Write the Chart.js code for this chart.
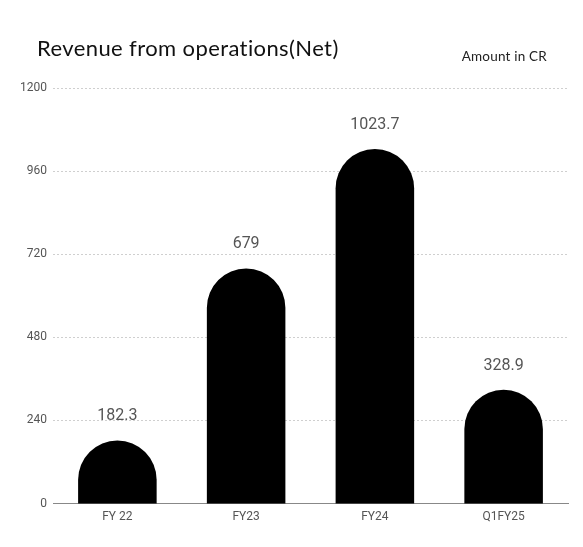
<!DOCTYPE html>
<html>
<head>
<meta charset="utf-8">
<script src="https://cdn.jsdelivr.net/npm/chart.js@4.4.1/dist/chart.umd.min.js"></script>
<style>
  html, body { margin: 0; padding: 0; background: #fff; }
  #wrap { position: relative; width: 583px; height: 547px; }
  #title { position: absolute; left: 37px; top: 34px; font: 22px Lato, "Open Sans", sans-serif; letter-spacing: 0.4px; color: #111; }
  #unit { position: absolute; right: 36px; top: 48px; font: 13.5px Lato, "Open Sans", sans-serif; letter-spacing: 0.2px; color: #222; }
  canvas { position: absolute; left: 0; top: 0; }
</style>
</head>
<body>
<div id="wrap">
  <canvas id="revChart" width="583" height="547"></canvas>
  <div id="title">Revenue from operations(Net)</div>
  <div id="unit">Amount in CR</div>
</div>
<script>
// chart values
const categories = ['FY 22', 'FY23', 'FY24', 'Q1FY25'];
const revenue = [182.3, 679, 1023.7, 328.9];
const yTicks = [0, 240, 480, 720, 960, 1200];

// draw the value above each bar
const valueLabels = {
    id: 'valueLabels',
    afterDatasetsDraw(chart) {
        const ctx = chart.ctx;
        const meta = chart.getDatasetMeta(0);
        ctx.save();
        ctx.font = '16px Roboto, sans-serif';
        ctx.fillStyle = '#555';
        ctx.textAlign = 'center';
        ctx.textBaseline = 'middle';
        meta.data.forEach((bar, i) => {
            ctx.fillText(String(revenue[i]), bar.x, bar.y - 24);
        });
        ctx.restore();
    }
};

const ctx = document.getElementById('revChart').getContext('2d');

new Chart(ctx, {
    type: 'bar',
    data: {
        labels: categories,
        datasets: [{
            data: revenue,
            backgroundColor: '#000',
            // start bars below the axis (clipped) so the round cap is a full half circle
            base: -300,
            borderRadius: { topLeft: 999, topRight: 999 },
            borderSkipped: 'bottom',
            barPercentage: 0.61,
            categoryPercentage: 1
        }]
    },
    options: {
        responsive: false,
        animation: false,
        layout: { padding: { top: 88, right: 15, bottom: 17, left: 0 } },
        plugins: {
            legend: { display: false },
            tooltip: { enabled: false }
        },
        scales: {
            x: {
                grid: { display: false, drawTicks: false },
                border: { display: true, color: '#888', width: 1 },
                ticks: { color: '#555', font: { family: 'Roboto', size: 12 }, padding: 6 }
            },
            y: {
                min: 0,
                max: 1200,
                afterBuildTicks(scale) {
                    scale.ticks = yTicks.map(v => ({ value: v }));
                },
                afterFit(scale) {
                    scale.width = 53;
                },
                border: { display: false, dash: [2, 2] },
                grid: {
                    drawTicks: false,
                    color: c => c.tick && c.tick.value === 0 ? 'rgba(0,0,0,0)' : '#cfcfcf',
                    lineWidth: 1
                },
                ticks: {
                    color: '#555',
                    font: { family: 'Roboto', size: 12 },
                    padding: 6,
                    callback: v => String(v)
                }
            }
        }
    },
    plugins: [valueLabels]
});
</script>
</body>
</html>
